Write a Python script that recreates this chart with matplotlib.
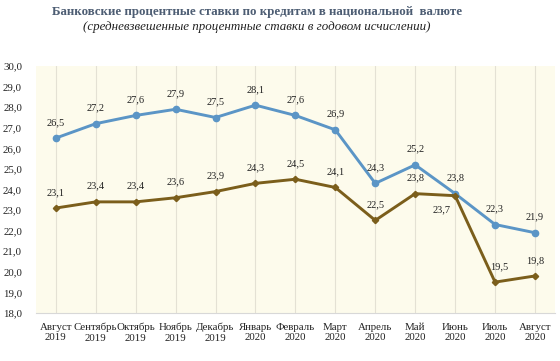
import numpy as np
import matplotlib.pyplot as plt

# Months (x categories)
months = ["Август\n2019", "Сентябрь\n2019", "Октябрь\n2019", "Ноябрь\n2019",
          "Декабрь\n2019", "Январь\n2020", "Февраль\n2020", "Март\n2020",
          "Апрель\n2020", "Май\n2020", "Июнь\n2020", "Июль\n2020", "Август\n2020"]

# Upper (blue) series
rates_blue = [26.5, 27.2, 27.6, 27.9, 27.5, 28.1, 27.6, 26.9, 24.3, 25.2, 23.8, 22.3, 21.9]
# Lower (brown) series
rates_brown = [23.1, 23.4, 23.4, 23.6, 23.9, 24.3, 24.5, 24.1, 22.5, 23.8, 23.7, 19.5, 19.8]

y_ticks = np.arange(18.0, 30.5, 1.0)

BLUE = "#5b95c6"
BROWN = "#7b5e1b"

plt.rcParams["font.family"] = ["Liberation Serif", "DejaVu Serif"]

fig = plt.figure(figsize=(5.6, 3.61), dpi=100)
ax = fig.add_axes([0.064, 0.133, 0.927, 0.684])
ax.set_facecolor("#fdfbec")

x = np.arange(len(months))
ax.plot(x, rates_blue, color=BLUE, lw=2.1, marker="o", ms=4.5, zorder=3)
ax.plot(x, rates_brown, color=BROWN, lw=2.1, marker="D", ms=3.2, zorder=3)

def fmt(v):
    return f"{v:.1f}".replace(".", ",")

for i, v in enumerate(rates_blue):
    ax.annotate(fmt(v), (i, v), xytext=(0, 8), textcoords="offset points",
                ha="center", va="bottom", fontsize=7.5, color="#222222")

for i, v in enumerate(rates_brown):
    dx, dy, va = 0, 8, "bottom"
    if i == 10:
        dx, dy, va = -10, -7, "top"
    elif i == 11:
        dx = 3
    ax.annotate(fmt(v), (i, v), xytext=(dx, dy), textcoords="offset points",
                ha="center", va=va, fontsize=7.5, color="#222222")

ax.set_xlim(-0.5, len(months) - 0.5)
ax.set_ylim(18, 30)
ax.set_xticks(x)
ax.set_xticklabels(months, fontsize=7.8, color="#222222", linespacing=1.25)
ax.set_yticks(y_ticks)
ax.set_yticklabels([fmt(v) for v in y_ticks], fontsize=7.8, color="#222222")
ax.tick_params(length=0, pad=7)
ax.tick_params(axis="y", pad=10)

ax.grid(axis="x", color="#e4e1d4", lw=0.8, zorder=0)
for s in ["left", "right", "top"]:
    ax.spines[s].set_visible(False)
ax.spines["bottom"].set_color("#d8d8d8")

fig.text(0.459, 0.967, "Банковские процентные ставки по кредитам в национальной  валюте",
         ha="center", va="center", fontsize=9.3, fontweight="bold", color="#4d5d73")
fig.text(0.459, 0.925, "(средневзвешенные процентные ставки в годовом исчислении)",
         ha="center", va="center", fontsize=9.4, style="italic", color="#222222")

fig.savefig("out.png", dpi=100)
